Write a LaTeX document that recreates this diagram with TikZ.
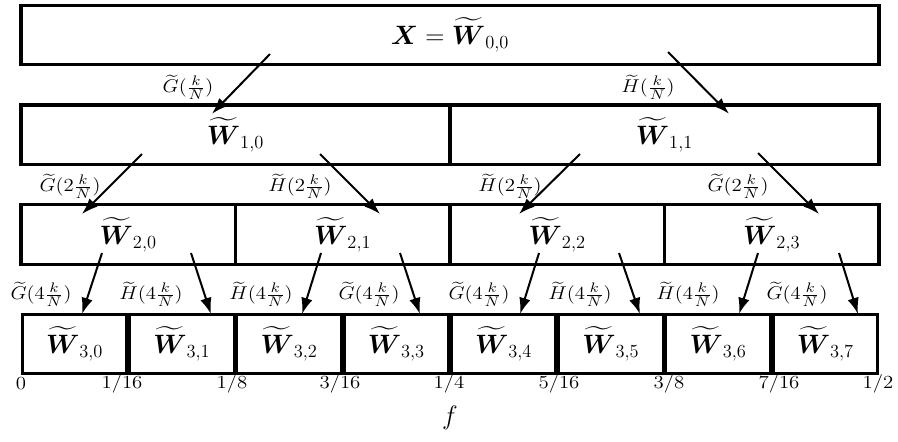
\documentclass[tikz,border=0pt]{standalone}
\usepackage{amsmath}
\usepackage{graphicx}
\usetikzlibrary{arrows.meta}
\tikzset{
  cellbox/.style={draw, line width=2pt, rectangle, inner sep=0pt, outer sep=0pt, minimum height=59.5*0.65pt, font=\LARGE},
  arr/.style={line width=1.3pt, -{Latex[length=10.5pt,width=7.5pt]}},
  elabel/.style={inner sep=0pt, font=\fontsize{12.8}{15}\selectfont},
  tick/.style={inner sep=0pt, font=\fontsize{12.4}{14}\selectfont},
}
\newcommand{\Wt}[1]{$\widetilde{\boldsymbol{W}}_{#1}$}
\newcommand{\hs}[1]{\scalebox{1.13}[1]{#1}}
\begin{document}
\begin{tikzpicture}[x=0.65pt, y=-0.65pt]
\useasboundingbox (0,0) rectangle (898,441);
% row 0
\node[cellbox, minimum width=858*0.65pt] (r0) at (450,35) {$\boldsymbol{X}=\widetilde{\boldsymbol{W}}_{0,0}$};
% row 1
\node[cellbox, minimum width=429*0.65pt] (r10) at (235.5,134.75) {\Wt{1,0}};
\node[cellbox, minimum width=429*0.65pt] (r11) at (664.5,134.75) {\Wt{1,1}};
% row 2
\node[cellbox, minimum width=214.5*0.65pt] (r20) at (128.25,234.5) {\Wt{2,0}};
\node[cellbox, minimum width=214.5*0.65pt] (r21) at (342.75,234.5) {\Wt{2,1}};
\node[cellbox, minimum width=214.5*0.65pt] (r22) at (557.25,234.5) {\Wt{2,2}};
\node[cellbox, minimum width=214.5*0.65pt] (r23) at (771.75,234.5) {\Wt{2,3}};
% row 3
\foreach \i/\c in {0/74.625,1/181.875,2/289.125,3/396.375,4/503.625,5/610.875,6/718.125,7/825.375}{
  \node[cellbox, minimum width=104.5*0.65pt] (r3\i) at (\c,344) {\Wt{3,\i}};
}
% arrows level 0 -> 1
\draw[arr] ([shift={(-180,19)}]r0.center) -- ([shift={(-23.5,-21)}]r10.center);
\draw[arr] ([shift={(218,17)}]r0.center) -- ([shift={(64.5,-21)}]r11.center);
% arrows level 1 -> 2
\draw[arr] ([shift={(-93.5,19.25)}]r10.center) -- ([shift={(-46.25,-20.5)}]r20.center);
\draw[arr] ([shift={(84.5,19.25)}]r10.center) -- ([shift={(37.25,-20.5)}]r21.center);
\draw[arr] ([shift={(-84.5,19.25)}]r11.center) -- ([shift={(-38.25,-20.5)}]r22.center);
\draw[arr] ([shift={(93.5,18.25)}]r11.center) -- ([shift={(47.25,-20.5)}]r23.center);
% arrows level 2 -> 3
\draw[arr] ([shift={(-26.25,18.5)}]r20.center) -- ([shift={(7.4,-30)}]r30.center);
\draw[arr] ([shift={(62.75,18.5)}]r20.center) -- ([shift={(29.1,-30)}]r31.center);
\draw[arr] ([shift={(-21.75,18.5)}]r21.center) -- ([shift={(12.9,-30)}]r32.center);
\draw[arr] ([shift={(57.25,18.5)}]r21.center) -- ([shift={(23.6,-30)}]r33.center);
\draw[arr] ([shift={(-18.25,18.5)}]r22.center) -- ([shift={(16.4,-30)}]r34.center);
\draw[arr] ([shift={(61.75,18.5)}]r22.center) -- ([shift={(29.1,-30)}]r35.center);
\draw[arr] ([shift={(-13.75,18.5)}]r23.center) -- ([shift={(20.9,-30)}]r36.center);
\draw[arr] ([shift={(67.25,18.5)}]r23.center) -- ([shift={(32.6,-30)}]r37.center);
% edge labels
\node[elabel] (l0) at (188,87) {\hs{$\widetilde{G}(\frac{k}{N})$}};
\node[elabel] (l1) at (648,87) {\hs{$\widetilde{H}(\frac{k}{N})$}};
\node[elabel] (l10) at (70,186) {\hs{$\widetilde{G}(2\frac{k}{N})$}};
\node[elabel] (l11) at (300,186) {\hs{$\widetilde{H}(2\frac{k}{N})$}};
\node[elabel] (l12) at (510,186) {\hs{$\widetilde{H}(2\frac{k}{N})$}};
\node[elabel] (l13) at (738,186) {\hs{$\widetilde{G}(2\frac{k}{N})$}};
\node[elabel] (l20) at (41,294) {\hs{$\widetilde{G}(4\frac{k}{N})$}};
\node[elabel] (l21) at (151,294) {\hs{$\widetilde{H}(4\frac{k}{N})$}};
\node[elabel] (l22) at (261,294) {\hs{$\widetilde{H}(4\frac{k}{N})$}};
\node[elabel] (l23) at (369,294) {\hs{$\widetilde{G}(4\frac{k}{N})$}};
\node[elabel] (l24) at (479,294) {\hs{$\widetilde{G}(4\frac{k}{N})$}};
\node[elabel] (l25) at (580,294) {\hs{$\widetilde{H}(4\frac{k}{N})$}};
\node[elabel] (l26) at (688,294) {\hs{$\widetilde{H}(4\frac{k}{N})$}};
\node[elabel] (l27) at (797,294) {\hs{$\widetilde{G}(4\frac{k}{N})$}};
% frequency ticks
\node[tick] (t0) at (21,384) {\hs{$0$}};
\node[tick] (t1) at (122,384) {\hs{$1/16$}};
\node[tick] (t2) at (232,384) {\hs{$1/8$}};
\node[tick] (t3) at (340,384) {\hs{$3/16$}};
\node[tick] (t4) at (449,384) {\hs{$1/4$}};
\node[tick] (t5) at (559,384) {\hs{$5/16$}};
\node[tick] (t6) at (669,384) {\hs{$3/8$}};
\node[tick] (t7) at (779,384) {\hs{$7/16$}};
\node[tick] (t8) at (878,384) {\hs{$1/2$}};
\node[inner sep=0pt, font=\LARGE] (fl) at (450,418) {$f$};
\end{tikzpicture}
\end{document}
